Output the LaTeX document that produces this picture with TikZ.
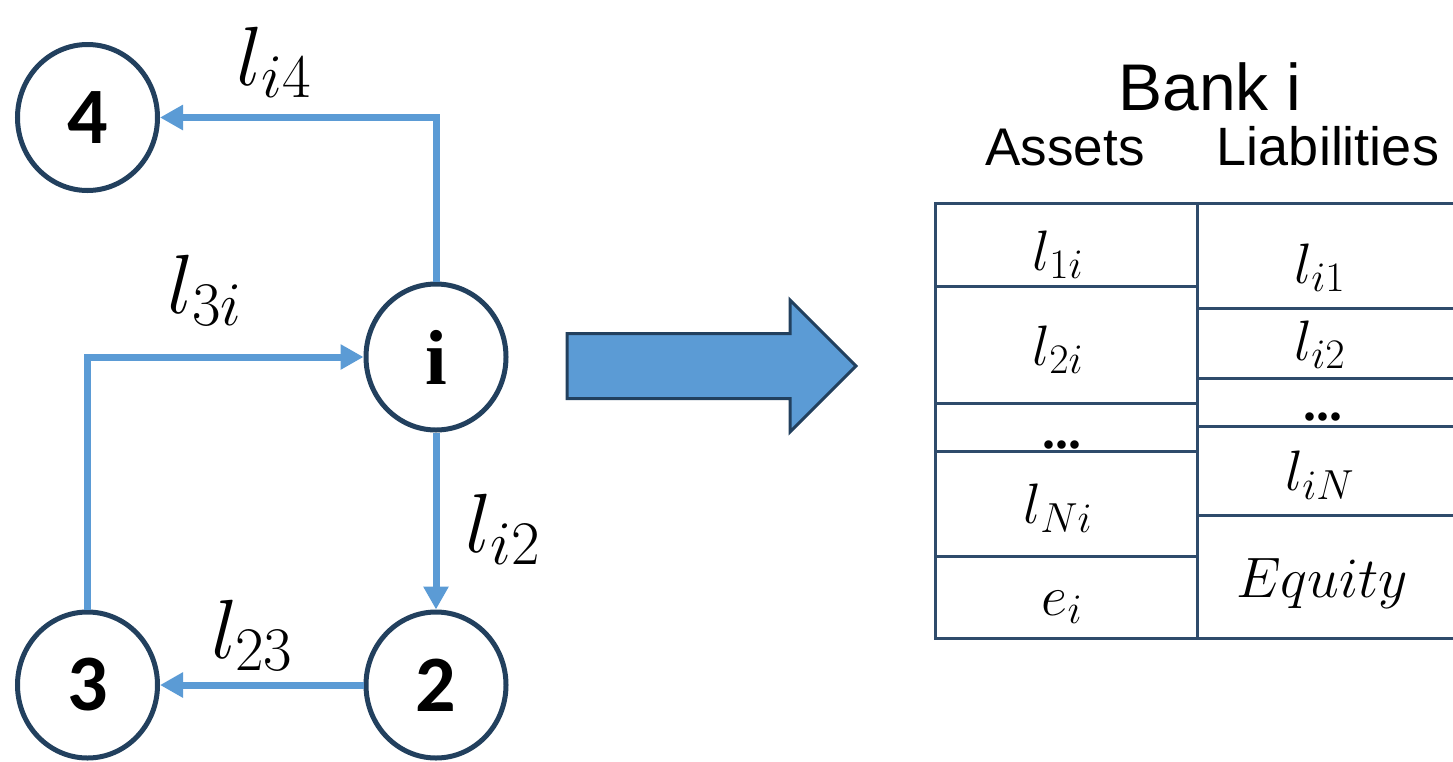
\RequirePackage{fix-cm}
\documentclass[tikz,border=0pt]{standalone}
\usepackage{fontspec}
\setmainfont{Liberation Sans}
\newfontfamily\digitfont{Carlito}
\newfontfamily\serifb{Liberation Serif}
\usetikzlibrary{arrows.meta,shapes.geometric}
\newcommand\sbx[2]{\hbox{\fontsize{#1}{#1}\selectfont$#2$}}
\newcommand\lab[1]{$l_{\sbx{62}{#1}}$}
\newcommand\cel[1]{$l_{\sbx{42}{#1}}$}
\definecolor{navy}{HTML}{22405E}
\definecolor{lblue}{HTML}{5B9BD5}
\definecolor{tline}{HTML}{2F4B6B}
\tikzset{
  bnode/.style={ellipse,draw=navy,line width=5pt,minimum width=140pt,minimum height=146pt,inner sep=0pt},
  numtxt/.style={font=\digitfont\bfseries\fontsize{80}{80}\selectfont},
  conn/.style={draw=lblue,line width=7pt,-{Triangle[length=23pt,width=24pt]}},
  elabel/.style={anchor=base,inner sep=0pt,font=\fontsize{84}{84}\selectfont},
  cell/.style={anchor=base,inner sep=0pt,font=\fontsize{57}{60}\selectfont},
  tab/.style={draw=tline,line width=3pt},
  head/.style={anchor=base,inner sep=0pt}
}
\begin{document}
\begin{tikzpicture}[x=1pt,y=-1pt]
\useasboundingbox (0,0) rectangle (1453,761);
% graph nodes
\node[bnode,numtxt] (n4) at (87.5,117.5) {4};
\node[bnode,font=\serifb\bfseries\fontsize{78}{78}\selectfont] (ni) at (436,357) {i};
\node[bnode,numtxt] (n3) at (87.5,685) {3};
\node[bnode,numtxt] (n2) at (436,685) {2};
% connectors
\draw[conn] (ni.north) |- (n4.east);
\draw[conn] (n3.north) |- (ni.west);
\draw[conn] (ni.south) -- (n2.north);
\draw[conn] (n2.west) -- (n3.east);
% edge labels
\node[elabel] (li4) at (274,85) {\lab{i4}};
\node[elabel] (l3i) at (205,313) {\lab{3i}};
\node[elabel] (li2g) at (503,552) {\lab{i2}};
\node[elabel] (l23) at (252,658) {\lab{23}};
% big arrow
\draw[fill=lblue,draw=navy,line width=3pt,line join=miter]
  (567,333.5) -- (790,333.5) -- (790,300) -- (856,366) -- (790,432) -- (790,398.5) -- (567,398.5) -- cycle;
% headings
\node[head,font=\fontsize{66}{66}\selectfont] (bank) at (1210,110) {Bank i};
\node[head,font=\fontsize{53}{53}\selectfont] (assets) at (1065,165) {Assets};
\node[head,font=\fontsize{54}{54}\selectfont] (liab) at (1328,165) {Liabilities};
% table lines
\draw[tab] (1453,203) -- (935,203) -- (935,638) -- (1453,638);
\draw[tab] (1197,203) -- (1197,638);
\foreach \yy in {286,403,451,556} \draw[tab] (935,\yy) -- (1197,\yy);
\foreach \yy in {308,378,426,515} \draw[tab] (1197,\yy) -- (1453,\yy);
% cells
\node[cell] (a1) at (1058,270) {\cel{1i}};
\node[cell] (a2) at (1058,365) {\cel{2i}};
\node[cell,font=\serifb\bfseries\fontsize{52}{52}\selectfont] (a3) at (1062,448) {...};
\node[cell] (a4) at (1058,523) {\cel{Ni}};
\node[cell] (a5) at (1062,615) {$e_{\sbx{42}{i}}$};
\node[cell] (b1) at (1320,283) {\cel{i1}};
\node[cell] (b2) at (1320,360) {\cel{i2}};
\node[cell,font=\serifb\bfseries\fontsize{52}{52}\selectfont] (b3) at (1323,420) {...};
\node[cell] (b4) at (1320,490) {\cel{iN}};
\node[cell] (b5) at (1322,597) {$Equity$};
\end{tikzpicture}
\end{document}
